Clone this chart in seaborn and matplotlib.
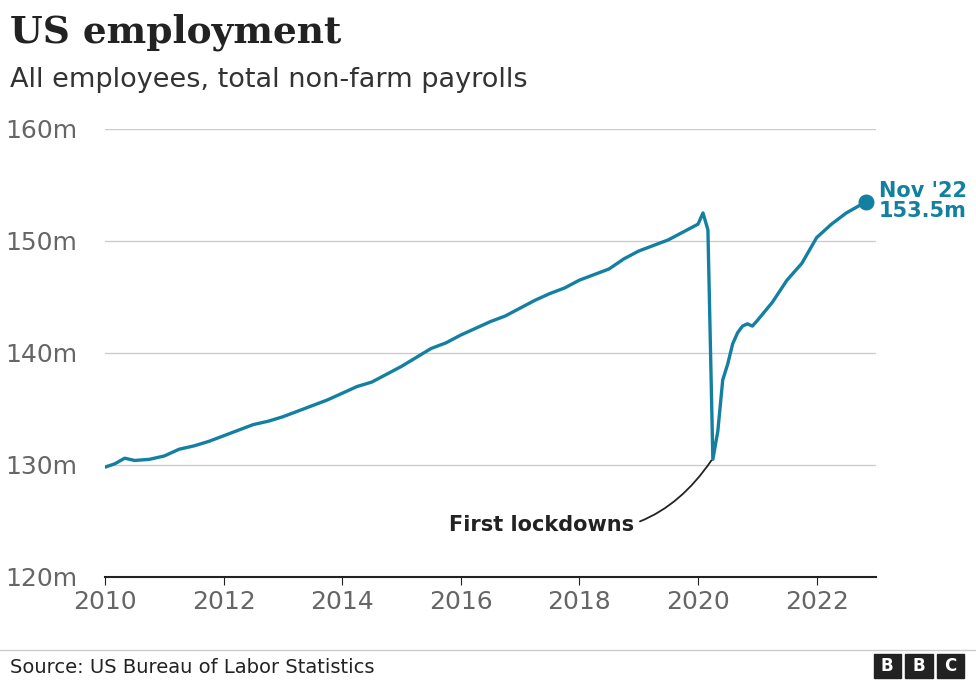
import pandas as pd
import seaborn as sns
import matplotlib.pyplot as plt
from matplotlib.patches import Rectangle

# --- datos (millones de empleos, no agricolas) ---
fechas = [
    "2010-01", "2010-03", "2010-05", "2010-07", "2010-10",
    "2011-01", "2011-04", "2011-07", "2011-10",
    "2012-01", "2012-04", "2012-07", "2012-10",
    "2013-01", "2013-04", "2013-07", "2013-10",
    "2014-01", "2014-04", "2014-07", "2014-10",
    "2015-01", "2015-04", "2015-07", "2015-10",
    "2016-01", "2016-04", "2016-07", "2016-10",
    "2017-01", "2017-04", "2017-07", "2017-10",
    "2018-01", "2018-04", "2018-07", "2018-10",
    "2019-01", "2019-04", "2019-07", "2019-10",
    "2020-01", "2020-02", "2020-03", "2020-04", "2020-05", "2020-06",
    "2020-07", "2020-08", "2020-09", "2020-10", "2020-11", "2020-12",
    "2021-01", "2021-04", "2021-07", "2021-10",
    "2022-01", "2022-04", "2022-07", "2022-11",
]
empleo = [
    129.8, 130.1, 130.6, 130.4, 130.5,
    130.8, 131.4, 131.7, 132.1,
    132.6, 133.1, 133.6, 133.9,
    134.3, 134.8, 135.3, 135.8,
    136.4, 137.0, 137.4, 138.1,
    138.8, 139.6, 140.4, 140.9,
    141.6, 142.2, 142.8, 143.3,
    144.0, 144.7, 145.3, 145.8,
    146.5, 147.0, 147.5, 148.4,
    149.1, 149.6, 150.1, 150.8,
    151.5, 152.5, 151.0, 130.5, 133.0, 137.6,
    139.0, 140.8, 141.8, 142.4, 142.6, 142.4,
    142.9, 144.5, 146.5, 148.0,
    150.3, 151.5, 152.5, 153.5,
]
df = pd.DataFrame({"fecha": pd.to_datetime(fechas), "empleo": empleo})
df["anio"] = df["fecha"].dt.year + (df["fecha"].dt.month - 1) / 12

azul = "#1380A1"
gris = "#666666"

fig = plt.figure(figsize=(9.76, 6.86), dpi=100)
ax = fig.add_axes([0.1075, 0.159, 0.79, 0.653])
sns.lineplot(data=df, x="anio", y="empleo", ax=ax, color=azul, linewidth=2.4)
ax.scatter([df["anio"].iloc[-1]], [df["empleo"].iloc[-1]], s=110, color=azul, zorder=5)

ax.set_xlim(2010, 2023)
ax.set_ylim(120, 160)
ax.set_yticks([120, 130, 140, 150, 160])
ax.set_yticklabels(["120m", "130m", "140m", "150m", "160m"])
ax.set_xticks(range(2010, 2023, 2))
ax.grid(axis="y", color="#cccccc", linewidth=1)
ax.grid(axis="x", visible=False)
for s in ["top", "right", "left"]:
    ax.spines[s].set_visible(False)
ax.spines["bottom"].set_color("#222222")
ax.spines["bottom"].set_linewidth(1.5)
ax.set_xlabel("")
ax.set_ylabel("")
ax.tick_params(axis="y", length=0, labelsize=18, labelcolor=gris)
ax.tick_params(axis="x", length=6, labelsize=18, labelcolor=gris, color="#222222")
for lbl in ax.get_yticklabels():
    lbl.set_horizontalalignment("left")
    lbl.set_x(-0.123)
ax.set_axisbelow(True)

# anotaciones
ax.text(2023.05, 153.6, "Nov '22\n153.5m", color=azul, fontsize=15, fontweight="bold",
        va="center", ha="left", linespacing=1.0, clip_on=False)
ax.annotate("First lockdowns", xy=(2020.25, 130.6), xytext=(2018.93, 124.6),
            fontsize=15, fontweight="bold", color="#222222", ha="right", va="center",
            arrowprops=dict(arrowstyle="-", color="#222222", lw=1.3, shrinkA=2, shrinkB=2,
                            connectionstyle="arc3,rad=0.35"))

# titulos
fig.text(0.01, 0.953, "US employment", fontsize=27, fontweight="bold", family="DejaVu Serif",
         color="#222222", va="center")
fig.text(0.01, 0.883, "All employees, total non-farm payrolls", fontsize=19.5, color="#333333",
         va="center")

# pie
fig.add_artist(plt.Line2D([0.0, 1.0], [0.053, 0.053], color="#cccccc", lw=1))
fig.text(0.01, 0.027, "Source: US Bureau of Labor Statistics", fontsize=14, color="#222222",
         va="center")
for i, letra in enumerate("BBC"):
    x0 = 0.895 + i * 0.0325
    fig.add_artist(Rectangle((x0, 0.011), 0.028, 0.036, color="#222222", transform=fig.transFigure))
    fig.text(x0 + 0.014, 0.029, letra, color="white", fontsize=12, fontweight="bold",
             ha="center", va="center")

fig.savefig("out.png", dpi=100)
